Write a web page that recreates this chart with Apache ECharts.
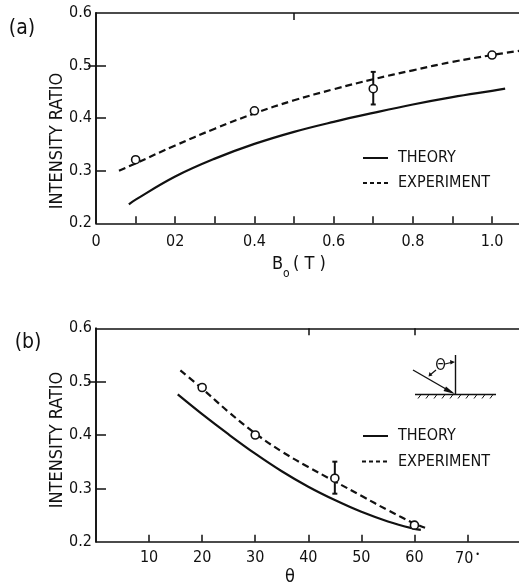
<!DOCTYPE html>
<html>
<head>
<meta charset="utf-8">
<script src="https://cdn.jsdelivr.net/npm/echarts@6/dist/echarts.min.js"></script>
<style>
  html, body { margin: 0; padding: 0; background: #fff; }
  #main { width: 519px; height: 586px; }
</style>
</head>
<body>
<div id="main"></div>
<script>
var myChart = echarts.init(document.getElementById('main'));

var FONT = '"Liberation Sans Narrow", "DejaVu Sans Condensed", sans-serif';
var INK = '#111';

// (a) intensity ratio vs B0
var theoryA = [[0.083, 0.236], [0.1, 0.245], [0.2, 0.289], [0.3, 0.323], [0.4, 0.351], [0.5, 0.374],
  [0.6, 0.393], [0.7, 0.410], [0.8, 0.426], [0.9, 0.440], [1.0, 0.452], [1.033, 0.456]];
var expLineA = [[0.058, 0.300], [0.1, 0.314], [0.2, 0.348], [0.3, 0.380], [0.4, 0.409], [0.5, 0.434],
  [0.6, 0.455], [0.7, 0.474], [0.8, 0.491], [0.9, 0.507], [1.0, 0.520], [1.068, 0.528]];
var pointsA = [[0.1, 0.321], [0.4, 0.414], [0.7, 0.456], [1.0, 0.52]];
var errorA = [[0.7, 0.426, 0.488]];
var xTicksA = [0.1, 0.2, 0.3, 0.4, 0.5, 0.6, 0.7, 0.8, 0.9, 1.0];
var xLabelValuesA = [0, 0.2, 0.4, 0.6, 0.8, 1.0];
var xLabelsA = ['0', '02', '0.4', '0.6', '0.8', '1.0'];

// (b) intensity ratio vs theta
var theoryB = [[15.4, 0.476], [20, 0.439], [25, 0.401], [30, 0.365], [35, 0.332], [40, 0.303],
  [45, 0.278], [50, 0.256], [55, 0.238], [60, 0.224], [61.2, 0.222]];
var expLineB = [[15.9, 0.521], [20, 0.487], [25, 0.443], [30, 0.403], [35, 0.369], [40, 0.340],
  [45, 0.313], [50, 0.286], [55, 0.259], [60, 0.234], [62, 0.226]];
var pointsB = [[20, 0.489], [30, 0.400], [45, 0.319], [60, 0.231]];
var errorB = [[45, 0.29, 0.35]];
var xLabelValuesB = [10, 20, 30, 40, 50, 60, 70];
var xLabelsB = ['10', '20', '30', '40', '50', '60', '70{d|•}'];

var yTicks = [0.3, 0.4, 0.5];

function findLabel(values, labels, v) {
  for (var i = 0; i < values.length; i++) {
    if (Math.abs(values[i] - v) < 1e-6) return labels[i];
  }
  return '';
}

function errorRender(params, api) {
  var x = api.value(0);
  var lo = api.coord([x, api.value(1)]);
  var hi = api.coord([x, api.value(2)]);
  var st = { stroke: INK, lineWidth: 2 };
  return {
    type: 'group',
    children: [
      { type: 'line', shape: { x1: lo[0], y1: lo[1], x2: hi[0], y2: hi[1] }, style: st },
      { type: 'line', shape: { x1: lo[0] - 2.5, y1: lo[1], x2: lo[0] + 2.5, y2: lo[1] }, style: st },
      { type: 'line', shape: { x1: hi[0] - 2.5, y1: hi[1], x2: hi[0] + 2.5, y2: hi[1] }, style: st }
    ]
  };
}

var axisLine = { show: true, lineStyle: { color: INK, width: 1.6 } };
var labelStyle = { color: INK, fontFamily: FONT, fontSize: 16 };

function legendGraphic(y1, y2, x0) {
  return [
    { type: 'line', shape: { x1: 363, y1: y1, x2: 388, y2: y1 }, style: { stroke: INK, lineWidth: 2 } },
    { type: 'text', x: 398, y: y1, style: { text: 'THEORY', fill: INK, font: '16px ' + FONT, textVerticalAlign: 'middle' } },
    { type: 'line', shape: { x1: x0, y1: y2, x2: 389, y2: y2 }, style: { stroke: INK, lineWidth: 2, lineDash: [4, 3] } },
    { type: 'text', x: 398, y: y2, style: { text: 'EXPERIMENT', fill: INK, font: '16px ' + FONT, textVerticalAlign: 'middle' } }
  ];
}

var hatches = [];
for (var hx = 421; hx <= 495; hx += 8) {
  hatches.push({ type: 'line', shape: { x1: hx, y1: 394.5, x2: hx - 3, y2: 398.5 }, style: { stroke: INK, lineWidth: 1 } });
}

var pointStyle = { color: '#fff', borderColor: INK, borderWidth: 1.6, opacity: 1 };

var option = {
  backgroundColor: '#fff',
  animation: false,
  grid: [
    { left: 96, top: 13, width: 425, height: 210.3 },
    { left: 96, top: 328.3, width: 425, height: 213.4 }
  ],
  xAxis: [
    {
      gridIndex: 0, type: 'value', position: 'bottom', min: 0, max: 1.068, interval: 0.1,
      axisLine: axisLine, splitLine: { show: false },
      axisTick: { inside: true, length: 7, customValues: xTicksA, lineStyle: { color: INK, width: 1.5 } },
      axisLabel: Object.assign({
        margin: 11, customValues: xLabelValuesA,
        formatter: function (v) { return findLabel(xLabelValuesA, xLabelsA, v); }
      }, labelStyle)
    },
    {
      gridIndex: 0, type: 'value', position: 'top', min: 0, max: 1.068, interval: 0.1,
      axisLine: axisLine, splitLine: { show: false }, axisLabel: { show: false },
      axisTick: { inside: true, length: 7, customValues: [0.5], lineStyle: { color: INK, width: 1.5 } }
    },
    {
      gridIndex: 1, type: 'value', position: 'bottom', min: 0, max: 79.7, interval: 10,
      axisLine: axisLine, splitLine: { show: false },
      axisTick: { inside: true, length: 7, customValues: xLabelValuesB, lineStyle: { color: INK, width: 1.5 } },
      axisLabel: Object.assign({
        margin: 8, customValues: xLabelValuesB,
        formatter: function (v) { return findLabel(xLabelValuesB, xLabelsB, v); },
        rich: { d: { fontSize: 9, verticalAlign: 'top', padding: [0, 0, 10, 2], color: INK } }
      }, labelStyle)
    },
    {
      gridIndex: 1, type: 'value', position: 'top', min: 0, max: 79.7, interval: 10,
      axisLine: axisLine, splitLine: { show: false }, axisLabel: { show: false },
      axisTick: { inside: true, length: 7, customValues: [40, 60], lineStyle: { color: INK, width: 1.5 } }
    }
  ],
  yAxis: [
    {
      gridIndex: 0, type: 'value', position: 'left', min: 0.2, max: 0.6, interval: 0.1,
      axisLine: axisLine, splitLine: { show: false },
      axisTick: { inside: true, length: 10, customValues: yTicks, lineStyle: { color: INK, width: 1.5 } },
      axisLabel: Object.assign({ margin: 4, formatter: function (v) { return v.toFixed(1); } }, labelStyle)
    },
    {
      gridIndex: 0, type: 'value', position: 'right', min: 0.2, max: 0.6, interval: 0.1,
      axisLine: axisLine, splitLine: { show: false }, axisLabel: { show: false },
      axisTick: { inside: true, length: 8, customValues: [0.5], lineStyle: { color: INK, width: 1.5 } }
    },
    {
      gridIndex: 1, type: 'value', position: 'left', min: 0.2, max: 0.6, interval: 0.1,
      axisLine: axisLine, splitLine: { show: false },
      axisTick: { inside: true, length: 10, customValues: yTicks, lineStyle: { color: INK, width: 1.5 } },
      axisLabel: Object.assign({ margin: 4, formatter: function (v) { return v.toFixed(1); } }, labelStyle)
    },
    {
      gridIndex: 1, type: 'value', position: 'right', min: 0.2, max: 0.6, interval: 0.1,
      axisLine: axisLine, splitLine: { show: false }, axisLabel: { show: false },
      axisTick: { inside: true, length: 8, customValues: [0.5], lineStyle: { color: INK, width: 1.5 } }
    }
  ],
  series: [
    { name: 'THEORY', type: 'line', xAxisIndex: 0, yAxisIndex: 0, data: theoryA, smooth: 0.4,
      showSymbol: false, lineStyle: { color: INK, width: 2.2 } },
    { name: 'EXPERIMENT', type: 'line', xAxisIndex: 0, yAxisIndex: 0, data: expLineA, smooth: 0.4,
      showSymbol: false, lineStyle: { color: INK, width: 2.2, type: [7, 4] } },
    { type: 'custom', xAxisIndex: 0, yAxisIndex: 0, data: errorA, renderItem: errorRender,
      encode: { x: 0, y: [1, 2] }, z: 3 },
    { type: 'scatter', xAxisIndex: 0, yAxisIndex: 0, data: pointsA, symbol: 'circle', symbolSize: 8,
      itemStyle: pointStyle, emphasis: { disabled: true }, z: 4 },

    { name: 'THEORY', type: 'line', xAxisIndex: 2, yAxisIndex: 2, data: theoryB, smooth: 0.4,
      showSymbol: false, lineStyle: { color: INK, width: 2.2 } },
    { name: 'EXPERIMENT', type: 'line', xAxisIndex: 2, yAxisIndex: 2, data: expLineB, smooth: 0.4,
      showSymbol: false, lineStyle: { color: INK, width: 2.2, type: [7, 4] } },
    { type: 'custom', xAxisIndex: 2, yAxisIndex: 2, data: errorB, renderItem: errorRender,
      encode: { x: 0, y: [1, 2] }, z: 3 },
    { type: 'scatter', xAxisIndex: 2, yAxisIndex: 2, data: pointsB, symbol: 'circle', symbolSize: 8,
      itemStyle: pointStyle, emphasis: { disabled: true }, z: 4 }
  ],
  graphic: [
    { type: 'text', x: 22, y: 29, style: { text: '(a)', fill: INK, font: '21px ' + FONT, textAlign: 'center', textVerticalAlign: 'middle' } },
    { type: 'text', x: 28, y: 343, style: { text: '(b)', fill: INK, font: '21px ' + FONT, textAlign: 'center', textVerticalAlign: 'middle' } },
    { type: 'text', x: 57, y: 141, rotation: Math.PI / 2, style: { text: 'INTENSITY RATIO', fill: INK, font: '18px ' + FONT, textAlign: 'center', textVerticalAlign: 'middle' } },
    { type: 'text', x: 57, y: 440, rotation: Math.PI / 2, style: { text: 'INTENSITY RATIO', fill: INK, font: '18px ' + FONT, textAlign: 'center', textVerticalAlign: 'middle' } },
    { type: 'text', x: 272, y: 264, style: { text: 'B', fill: INK, font: '18px ' + FONT, textVerticalAlign: 'middle' } },
    { type: 'text', x: 283, y: 274, style: { text: 'o', fill: INK, font: '12px ' + FONT, textVerticalAlign: 'middle' } },
    { type: 'text', x: 293, y: 264, style: { text: '( T )', fill: INK, font: '18px ' + FONT, textVerticalAlign: 'middle' } },
    { type: 'text', x: 290, y: 577, style: { text: 'θ', fill: INK, font: '18px ' + FONT, textAlign: 'center', textVerticalAlign: 'middle' } },
    // inset: incidence angle sketch
    { type: 'line', shape: { x1: 455.5, y1: 355, x2: 455.5, y2: 394.5 }, style: { stroke: INK, lineWidth: 1.4 } },
    { type: 'line', shape: { x1: 415, y1: 394.5, x2: 496, y2: 394.5 }, style: { stroke: INK, lineWidth: 1.4 } },
    { type: 'line', shape: { x1: 413, y1: 370, x2: 452, y2: 392.5 }, style: { stroke: INK, lineWidth: 1.4 } },
    { type: 'polygon', shape: { points: [[455, 394], [446, 386.5], [443.5, 391]] }, style: { fill: INK } },
    { type: 'text', x: 440.5, y: 366, style: { text: 'Θ', fill: INK, font: '15px ' + FONT, textAlign: 'center', textVerticalAlign: 'middle' } },
    { type: 'line', shape: { x1: 436, y1: 370, x2: 430, y2: 375 }, style: { stroke: INK, lineWidth: 1.2 } },
    { type: 'polygon', shape: { points: [[428.5, 376.5], [429.5, 372], [432.5, 375.5]] }, style: { fill: INK } },
    { type: 'line', shape: { x1: 445, y1: 364, x2: 451, y2: 362.5 }, style: { stroke: INK, lineWidth: 1.2 } },
    { type: 'polygon', shape: { points: [[455, 362], [450, 360], [450.5, 364.5]] }, style: { fill: INK } }
  ].concat(hatches, legendGraphic(158, 183, 363), legendGraphic(436, 461.5, 362))
};

myChart.setOption(option);
</script>
</body>
</html>
